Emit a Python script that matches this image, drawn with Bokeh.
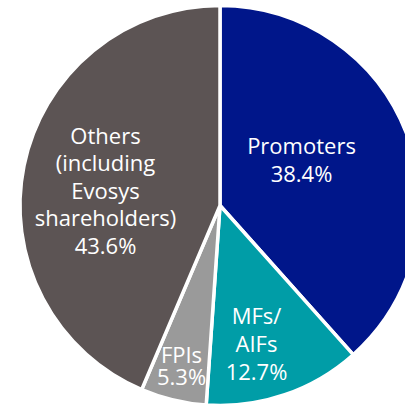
import numpy as np
import pandas as pd
from bokeh.plotting import figure
from bokeh.models import ColumnDataSource, Range1d
from bokeh.core.properties import value
from bokeh.embed import file_html
from bokeh.resources import INLINE

# ---- data ----
categories = ["Promoters", "MFs/ AIFs", "FPIs", "Others (including Evosys shareholders)"]
shares = [38.4, 12.7, 5.3, 43.6]
label_names = [["Promoters"], ["MFs/", "AIFs"], ["FPIs"], ["Others", "(including", "Evosys", "shareholders)"]]
colors = ["#00168A", "#009DA7", "#9A9A9A", "#5C5454"]

# ---- layout (pixels) ----
W, H = 405, 404
CX, CY = 219.5, 205.0    # pie centre inside the figure
R = 200
TEXT_SHIFT = 10          # compensation for text baseline rendering
# label anchor: page x centre, page baseline of first line, line spacing
label_layout = [(301, 154, 28.7), (256, 324, 28.0), (181, 363, 22.5), (105, 144, 27.5)]

df = pd.DataFrame({"category": categories, "share": shares, "color": colors})
frac = df["share"] / df["share"].sum()
cum = frac.cumsum()
df["start"] = np.pi / 2 - (cum - frac) * 2 * np.pi
df["end"] = np.pi / 2 - cum * 2 * np.pi
src = ColumnDataSource(df)

p = figure(width=W, height=H, output_backend="svg", toolbar_location=None,
           x_range=Range1d(-CX, W - CX), y_range=Range1d(-(H - CY), CY),
           min_border=0)
p.axis.visible = False
p.grid.visible = False
p.outline_line_color = None
p.background_fill_color = "white"
p.border_fill_color = "white"

p.wedge(x=0, y=0, radius=R, start_angle="start", end_angle="end", direction="clock",
        fill_color="color", line_color="white", line_width=3.5, source=src)

xs, ys, texts = [], [], []
for i, names in enumerate(label_names):
    lines = names + [f"{shares[i]:.1f}%"]
    ax, ay, sp = label_layout[i]
    for j, t in enumerate(lines):
        xs.append(ax - CX)
        ys.append(CY - (ay - TEXT_SHIFT + j * sp))
        texts.append(t)
lsrc = ColumnDataSource(dict(x=xs, y=ys, text=texts))
p.text(x="x", y="y", text="text", source=lsrc, text_align="center",
       text_baseline="alphabetic", text_color="white",
       text_font=value("Open Sans"), text_font_size="22px")

open("out.html", "w").write(file_html(p, INLINE))
